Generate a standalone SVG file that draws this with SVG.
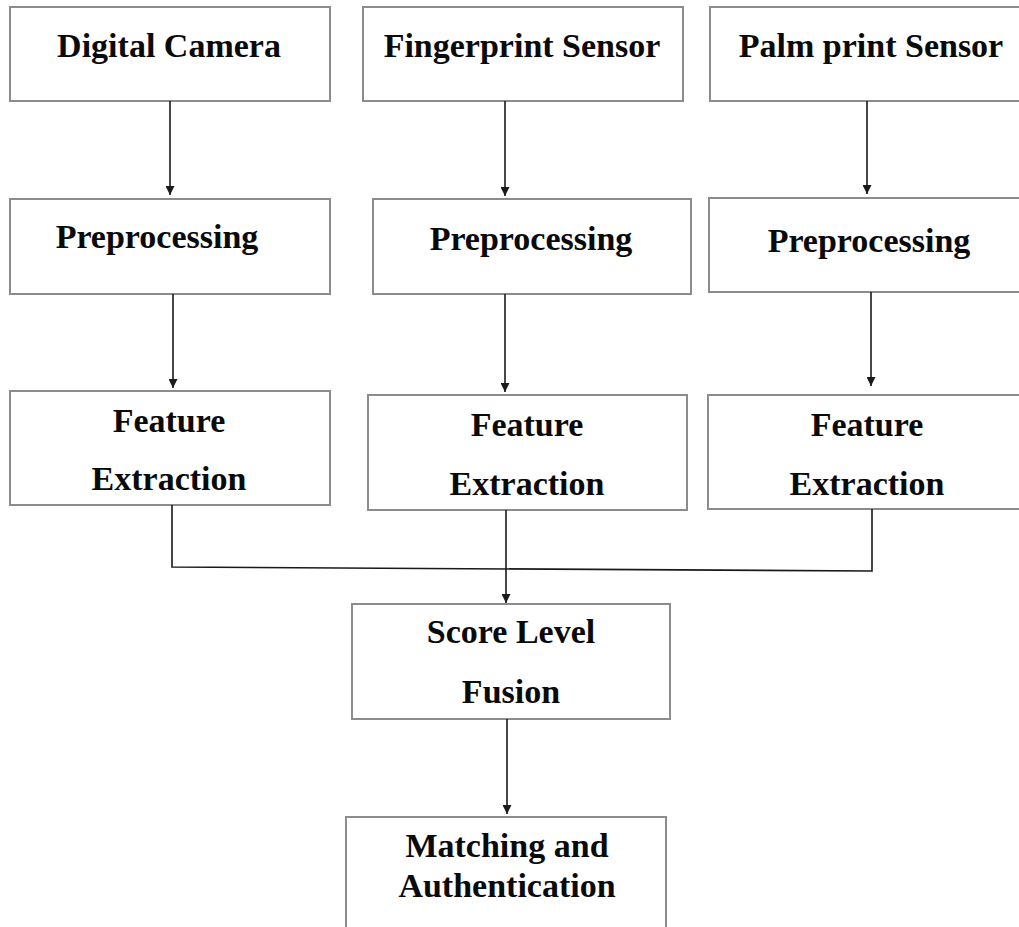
<svg xmlns="http://www.w3.org/2000/svg" width="1019" height="927" viewBox="0 0 1019 927">
  <style>
    .box { fill: #ffffff; stroke: #8c8c8c; stroke-width: 2; }
    .lbl { font-family: "Liberation Serif", "Times New Roman", serif; font-weight: bold; font-size: 34px; fill: #0a0a0a; text-anchor: middle; }
    .wire { fill: none; stroke: #1a1a1a; stroke-width: 1.6; }
    .arrow { fill: none; stroke: #1a1a1a; stroke-width: 1.6; marker-end: url(#head); }
  </style>
  <defs>
    <marker id="head" viewBox="0 0 10 10" refX="10" refY="5" markerWidth="10" markerHeight="9" markerUnits="userSpaceOnUse" orient="auto">
      <path d="M0,0 L10,5 L0,10 Z" fill="#1a1a1a"/>
    </marker>
  </defs>
  <rect x="0" y="0" width="1019" height="927" fill="#ffffff"/>

  <!-- sensors -->
  <g id="digital-camera">
    <rect class="box" x="10" y="7" width="320" height="94"/>
    <text class="lbl" x="169" y="57">Digital Camera</text>
  </g>
  <g id="fingerprint-sensor">
    <rect class="box" x="363" y="7" width="320" height="94"/>
    <text class="lbl" x="522" y="57">Fingerprint Sensor</text>
  </g>
  <g id="palmprint-sensor">
    <rect class="box" x="710" y="7" width="320" height="94"/>
    <text class="lbl" x="871" y="57">Palm print Sensor</text>
  </g>

  <!-- preprocessing -->
  <g id="preprocessing-1">
    <rect class="box" x="10" y="199" width="320" height="95"/>
    <text class="lbl" x="157" y="248">Preprocessing</text>
  </g>
  <g id="preprocessing-2">
    <rect class="box" x="373" y="199" width="318" height="95"/>
    <text class="lbl" x="531" y="250">Preprocessing</text>
  </g>
  <g id="preprocessing-3">
    <rect class="box" x="709" y="198" width="320" height="94"/>
    <text class="lbl" x="869" y="252">Preprocessing</text>
  </g>

  <!-- feature extraction -->
  <g id="feature-1">
    <rect class="box" x="10" y="391" width="320" height="114"/>
    <text class="lbl" x="169" y="432">Feature</text>
    <text class="lbl" x="169" y="490">Extraction</text>
  </g>
  <g id="feature-2">
    <rect class="box" x="368" y="395" width="319" height="115"/>
    <text class="lbl" x="527" y="436">Feature</text>
    <text class="lbl" x="527" y="495">Extraction</text>
  </g>
  <g id="feature-3">
    <rect class="box" x="708" y="395" width="320" height="114"/>
    <text class="lbl" x="867" y="436">Feature</text>
    <text class="lbl" x="867" y="495">Extraction</text>
  </g>

  <!-- fusion and decision -->
  <g id="score-fusion">
    <rect class="box" x="352" y="604" width="318" height="115"/>
    <text class="lbl" x="511" y="643">Score Level</text>
    <text class="lbl" x="511" y="703">Fusion</text>
  </g>
  <g id="matching">
    <rect class="box" x="346" y="817" width="320" height="130"/>
    <text class="lbl" x="507" y="857">Matching and</text>
    <text class="lbl" x="507" y="897">Authentication</text>
  </g>

  <!-- connectors -->
  <g id="connectors">
    <line class="arrow" x1="170" y1="101" x2="170" y2="195"/>
    <line class="arrow" x1="505" y1="101" x2="505" y2="196"/>
    <line class="arrow" x1="867" y1="101" x2="867" y2="194"/>

    <line class="arrow" x1="173" y1="294" x2="173" y2="388"/>
    <line class="arrow" x1="505" y1="294" x2="505" y2="392"/>
    <line class="arrow" x1="871" y1="292" x2="871" y2="386"/>

    <path class="wire" d="M172,505 L172,567 L872,571 L872,509"/>
    <line class="arrow" x1="506" y1="510" x2="506" y2="603"/>

    <line class="arrow" x1="507" y1="719" x2="507" y2="814"/>
  </g>
</svg>
